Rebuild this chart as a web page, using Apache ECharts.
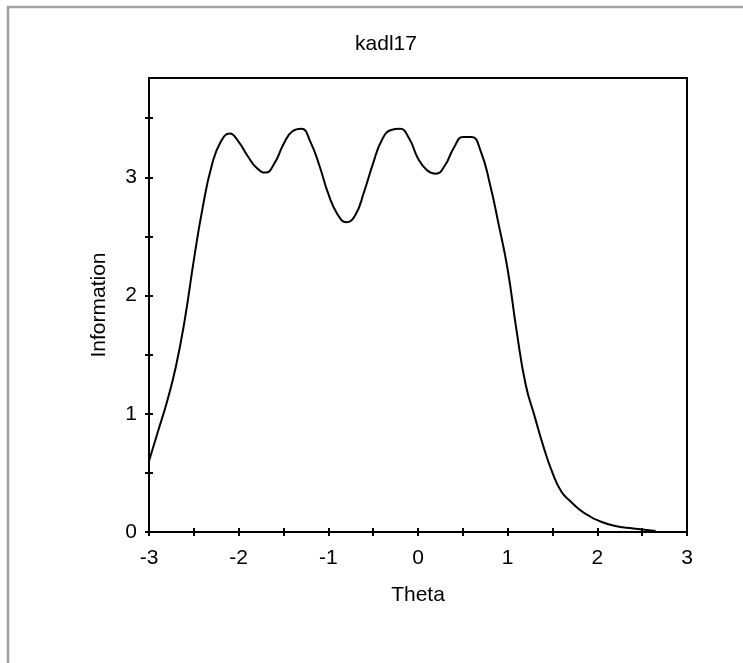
<!DOCTYPE html>
<html>
<head>
<meta charset="utf-8">
<script src="https://cdn.jsdelivr.net/npm/echarts@6/dist/echarts.min.js"></script>
<style>
  html, body { margin: 0; padding: 0; background: #fff; }
  #main { width: 743px; height: 663px; }
</style>
</head>
<body>
<div id="main"></div>
<script>
// theta values and information curve
var theta = [-3.0, -2.9, -2.8, -2.7, -2.6, -2.5, -2.4, -2.3, -2.2, -2.1, -2.0, -1.9, -1.8, -1.7, -1.6,
    -1.5, -1.4, -1.3, -1.2, -1.1, -1.0, -0.9, -0.8, -0.7, -0.6, -0.5, -0.4, -0.3, -0.2, -0.1,
    0, 0.1, 0.2, 0.3, 0.4, 0.5, 0.6, 0.7, 0.8, 0.9, 1.0, 1.1, 1.2, 1.3, 1.4, 1.5, 1.6, 1.7,
    1.8, 1.9, 2.0, 2.2, 2.4, 2.6, 2.65];
var information = [0.6, 0.85, 1.1, 1.4, 1.8, 2.3, 2.75, 3.1, 3.3, 3.37, 3.3, 3.18, 3.08, 3.04, 3.12,
    3.28, 3.39, 3.41, 3.3, 3.1, 2.86, 2.69, 2.62, 2.68, 2.88, 3.12, 3.32, 3.4, 3.41, 3.33,
    3.16, 3.06, 3.03, 3.1, 3.25, 3.34, 3.34, 3.22, 2.95, 2.6, 2.22, 1.7, 1.25, 0.98, 0.72, 0.5, 0.34, 0.26,
    0.19, 0.14, 0.1, 0.05, 0.03, 0.012, 0.01];
var titleText = 'kadl17';
var xName = 'Theta';
var yName = 'Information';

var points = theta.map(function (t, i) { return [t, information[i]]; });
var font = 'Liberation Sans, Arial, sans-serif';
var fs = 21;

var myChart = echarts.init(document.getElementById('main'));

function intLabel(v) {
    return Math.abs(v - Math.round(v)) < 1e-6 ? String(Math.round(v)) : '';
}

// ticks cross the axis line in the original, so each axis is drawn twice (outside + inside ticks)
var baseX = {
    type: 'value', min: -3, max: 3, interval: 0.5, position: 'bottom',
    axisLine: { onZero: false, lineStyle: { color: '#000', width: 2 } },
    splitLine: { show: false }
};
var baseY = {
    type: 'value', min: 0, max: 3.84, interval: 0.5, position: 'left',
    axisLine: { onZero: false, lineStyle: { color: '#000', width: 2 } },
    splitLine: { show: false }
};

myChart.setOption({
    animation: false,
    backgroundColor: '#fff',
    title: {
        text: titleText, left: 381, top: 29, textAlign: 'center',
        textStyle: { fontFamily: font, fontSize: fs, fontWeight: 'normal', color: '#000' }
    },
    graphic: [{
        type: 'rect', silent: true,
        shape: { x: 8, y: 7, width: 800, height: 700 },
        style: { fill: 'none', stroke: '#a0a0a0', lineWidth: 2.5 }
    }],
    grid: {
        left: 149, right: 56, top: 78, bottom: 131,
        show: true, borderColor: '#000', borderWidth: 2, backgroundColor: 'transparent'
    },
    xAxis: [
        Object.assign({}, baseX, {
            name: xName, nameLocation: 'middle', nameGap: 53,
            nameTextStyle: { fontFamily: font, fontSize: fs, color: '#000' },
            axisTick: { show: true, inside: false, length: 4, lineStyle: { color: '#000', width: 2 } },
            axisLabel: { fontFamily: font, fontSize: fs, color: '#000', margin: 16, formatter: intLabel }
        }),
        Object.assign({}, baseX, {
            axisTick: { show: true, inside: true, length: 4, lineStyle: { color: '#000', width: 2 } },
            axisLabel: { show: false }
        })
    ],
    yAxis: [
        Object.assign({}, baseY, {
            name: yName, nameLocation: 'middle', nameGap: 39,
            nameTextStyle: { fontFamily: font, fontSize: fs, color: '#000' },
            axisTick: { show: true, inside: false, length: 4, lineStyle: { color: '#000', width: 2 } },
            axisLabel: { fontFamily: font, fontSize: fs, color: '#000', margin: 12, formatter: intLabel,
                showMaxLabel: false }
        }),
        Object.assign({}, baseY, {
            axisTick: { show: true, inside: true, length: 4, lineStyle: { color: '#000', width: 2 } },
            axisLabel: { show: false }
        })
    ],
    series: [{
        type: 'line',
        xAxisIndex: 0,
        yAxisIndex: 0,
        data: points,
        smooth: true,
        symbol: 'none',
        lineStyle: { color: '#000', width: 2 }
    }]
});
</script>
</body>
</html>
